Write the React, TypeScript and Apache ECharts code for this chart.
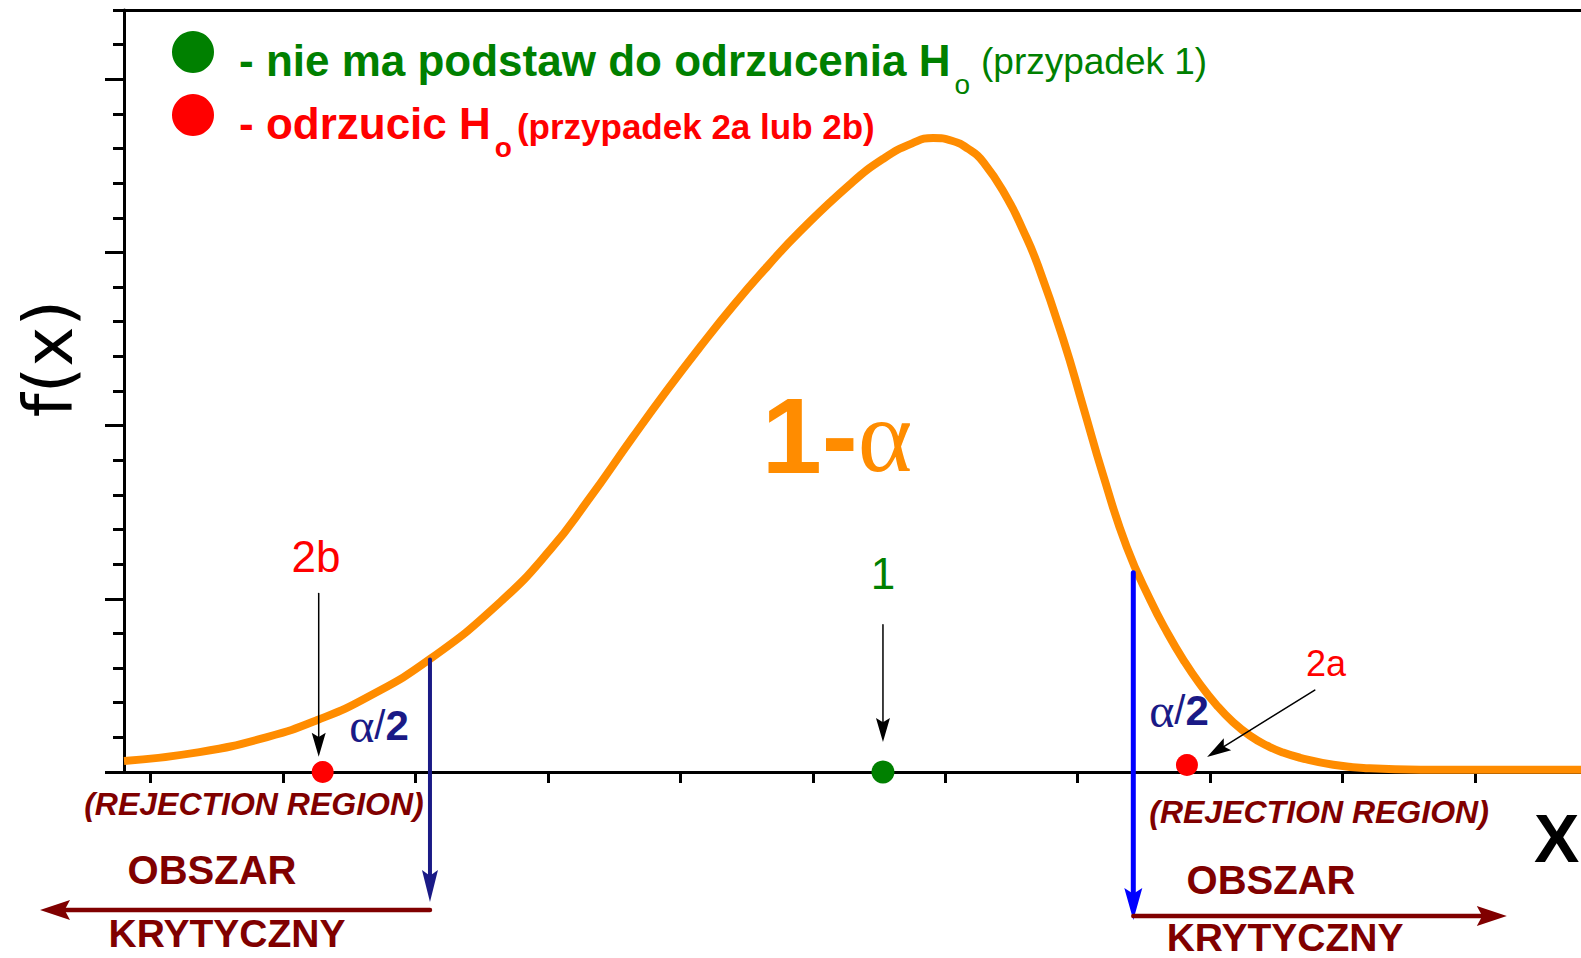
import React, { useEffect, useRef } from "react";
import * as echarts from "echarts";

// ---- density curve f(x), sampled in axis units ----
const densityX = [
  -0.2, 0.37, 0.88, 1.26, 1.64, 2.11, 2.64, 3.02, 3.3, 3.64, 3.9, 4.15, 4.4, 4.66, 4.9, 5.28, 5.53,
  5.75, 5.91, 6.05, 6.17, 6.29, 6.47, 6.59, 6.7, 6.89, 7.04, 7.19, 7.37, 7.55, 7.68, 7.8, 7.92,
  8.05, 8.17, 8.3, 8.43, 8.55, 8.68, 8.93, 9.19, 9.59, 10.19, 10.8,
];
const densityY = [
  0.064, 0.115, 0.202, 0.3, 0.433, 0.652, 0.981, 1.285, 1.565, 1.932, 2.205, 2.455, 2.693, 2.922,
  3.119, 3.393, 3.54, 3.63, 3.661, 3.645, 3.6, 3.52, 3.31, 3.125, 2.925, 2.5, 2.113, 1.72, 1.3,
  0.99, 0.8, 0.645, 0.51, 0.385, 0.29, 0.21, 0.152, 0.112, 0.082, 0.042, 0.022, 0.013, 0.013, 0.013,
];

// ---- axis ticks ----
const xTicks = [0, 1, 2, 3, 4, 5, 6, 7, 8, 9, 10];
const yMajorTicks = [0, 1, 2, 3, 4];
const yMinorTicks = [0.2, 0.4, 0.6, 0.8, 1.2, 1.4, 1.6, 1.8, 2.2, 2.4, 2.6, 2.8, 3.2, 3.4, 3.6, 3.8, 4.2, 4.4];

// ---- critical values (left / right) and f at those points ----
const criticalX = [2.11, 7.42];
const criticalTop = [0.65, 1.15];
const criticalArrowEnd = [-0.75, -0.855];

// ---- rejection-region arrows below the axis ----
const regionArrowY = [-0.797, -0.831];
const regionArrowEnd = [-0.834, 10.24];

// ---- test statistic cases ----
const acceptX = [5.53];
const acceptY = [0];
const rejectX = [1.3, 7.825];
const rejectY = [0, 0.04];

// ---- pointer arrows from case labels to points ----
const pointerFromX = [1.27, 5.53, 8.79];
const pointerFromY = [1.03, 0.85, 0.473];
const pointerToX = [1.27, 5.53, 7.977];
const pointerToY = [0.088, 0.173, 0.087];

// ---- labels ----
const caseLabels = ["2b", "1", "2a"];
const caseLabelX = [1.25, 5.53, 8.875];
const caseLabelY = [1.247, 1.146, 0.627];

const tailLabelX = [1.725, 7.765];
const tailLabelY = [0.271, 0.358];

const coverageLabelX = [5.183];
const coverageLabelY = [1.942];

const rejectionLabelX = [0.781, 8.822];
const rejectionLabelY = [-0.185, -0.231];
const obszarLabelX = [0.464, 8.46];
const obszarLabelY = [-0.566, -0.624];
const krytycznyLabelX = [0.578, 8.566];
const krytycznyLabelY = [-0.93, -0.955];

const ACCEPT = "nie ma podstaw do odrzucenia Ho (przypadek 1)";
const REJECT = "odrzucic Ho (przypadek 2a lub 2b)";

const SANS = '"Liberation Sans", Arial, sans-serif';
const SERIF = '"Liberation Serif", "Times New Roman", serif';
const ORANGE = "#ff8c00";
const GREEN = "#008000";
const RED = "#ff0000";
const MAROON = "#800000";
const NAVY = "#1a1a86";
const BLUE = "#0000ff";

const zip = (xs: number[], ys: number[]) => xs.map((x, i) => [x, ys[i]]);

function arrowSeries(
  id: string,
  data: number[][],
  color: string,
  lineWidth: number,
  headLen: number,
  headHalf: number
) {
  return {
    type: "custom",
    id,
    coordinateSystem: "cartesian2d",
    silent: true,
    z: 5,
    clip: false,
    data,
    encode: { x: [0, 2], y: [1, 3] },
    renderItem: (_params: any, api: any) => {
      const a = api.coord([api.value(0), api.value(1)]);
      const b = api.coord([api.value(2), api.value(3)]);
      const dx = b[0] - a[0];
      const dy = b[1] - a[1];
      const len = Math.hypot(dx, dy) || 1;
      const ux = dx / len;
      const uy = dy / len;
      const nx = -uy;
      const ny = ux;
      const bx = b[0] - ux * headLen;
      const by = b[1] - uy * headLen;
      const notch = headLen * 0.18;
      return {
        type: "group",
        children: [
          {
            type: "line",
            shape: { x1: a[0], y1: a[1], x2: bx + ux * notch, y2: by + uy * notch },
            style: { stroke: color, lineWidth, lineCap: "round" },
          },
          {
            type: "polygon",
            shape: {
              points: [
                [b[0], b[1]],
                [bx + nx * headHalf, by + ny * headHalf],
                [bx + ux * notch, by + uy * notch],
                [bx - nx * headHalf, by - ny * headHalf],
              ],
            },
            style: { fill: color },
          },
        ],
      };
    },
  };
}

function textSeries(
  id: string,
  xs: number[],
  ys: number[],
  texts: string[],
  style: (i: number) => Record<string, any>
) {
  return {
    type: "custom",
    id,
    coordinateSystem: "cartesian2d",
    silent: true,
    z: 8,
    clip: false,
    data: zip(xs, ys),
    encode: { x: 0, y: 1 },
    renderItem: (params: any, api: any) => {
      const p = api.coord([api.value(0), api.value(1)]);
      return {
        type: "text",
        x: p[0],
        y: p[1],
        style: {
          text: texts[params.dataIndex],
          align: "center",
          verticalAlign: "middle",
          ...style(params.dataIndex),
        },
      };
    },
  };
}

const axisLineStyle = { color: "#000", width: 3 };

// legend text tokens: all top-aligned; the subscript is pushed down by its top padding
const legendToken = (color: string, size: number, weight: string, top: number, left: number) => ({
  fontFamily: SANS,
  fontWeight: weight,
  fontSize: size,
  color,
  lineHeight: 44,
  verticalAlign: "top",
  padding: [top, 0, 44 - size - top, left],
});

function buildOption(): any {
  return {
    animation: false,
    backgroundColor: "#ffffff",
    grid: { left: 124, right: 0, top: 10, bottom: 186, containLabel: false, outerBoundsMode: "none" },
    legend: {
      orient: "vertical",
      left: 167,
      top: 25,
      itemWidth: 42,
      itemHeight: 42,
      itemGap: -5,
      icon: "circle",
      selectedMode: false,
      data: [ACCEPT, REJECT],
      formatter: (name: string) =>
        name === ACCEPT
          ? "{gm|- nie ma podstaw do odrzucenia H}{gs|o}{gn|(przypadek 1)}"
          : "{rm|- odrzucic H}{rs|o}{rn|(przypadek 2a lub 2b)}",
      textStyle: {
        rich: {
          gm: legendToken(GREEN, 44, "bold", 8, 20),
          gs: legendToken(GREEN, 28, "normal", 40, 4),
          gn: legendToken(GREEN, 37, "normal", 13, 11),
          rm: legendToken(RED, 44, "bold", 8, 20),
          rs: legendToken(RED, 28, "bold", 40, 4),
          rn: legendToken(RED, 35, "bold", 16, 5),
        },
      },
    },
    xAxis: [
      {
        type: "value",
        min: -0.2,
        max: 10.8,
        position: "bottom",
        axisLine: { show: true, onZero: false, lineStyle: axisLineStyle },
        axisTick: { show: true, customValues: xTicks, length: 11, lineStyle: axisLineStyle },
        axisLabel: { show: false },
        splitLine: { show: false },
        name: "X",
        nameLocation: "end",
        nameGap: -47,
        nameTextStyle: {
          fontFamily: SANS,
          fontWeight: "bold",
          fontSize: 68,
          color: "#000",
          align: "left",
          verticalAlign: "top",
          padding: [32, 0, 0, 0],
        },
      },
      {
        type: "value",
        min: -0.2,
        max: 10.8,
        position: "top",
        axisLine: { show: true, onZero: false, lineStyle: axisLineStyle },
        axisTick: { show: false },
        axisLabel: { show: false },
        splitLine: { show: false },
      },
    ],
    yAxis: [
      {
        type: "value",
        min: 0,
        max: 4.4,
        position: "left",
        axisLine: { show: true, onZero: false, lineStyle: axisLineStyle },
        axisTick: { show: true, customValues: yMajorTicks, length: 19, lineStyle: axisLineStyle },
        axisLabel: { show: false },
        splitLine: { show: false },
        name: "f(x)",
        nameLocation: "middle",
        nameRotate: 90,
        nameGap: 42,
        nameTextStyle: {
          fontFamily: '"DejaVu Sans", sans-serif',
          fontSize: 68,
          color: "#000",
          padding: [0, 0, 0, 65],
        },
      },
      {
        type: "value",
        min: 0,
        max: 4.4,
        position: "left",
        axisLine: { show: false, onZero: false },
        axisTick: { show: true, customValues: yMinorTicks, length: 11, lineStyle: axisLineStyle },
        axisLabel: { show: false },
        splitLine: { show: false },
      },
    ],
    series: [
      {
        type: "line",
        name: "f(x)",
        data: zip(densityX, densityY),
        smooth: 0.5,
        symbol: "none",
        showSymbol: false,
        lineStyle: { color: ORANGE, width: 8 },
        z: 3,
        silent: true,
      },
      arrowSeries("critical-left", [[criticalX[0], criticalTop[0], criticalX[0], criticalArrowEnd[0]]], NAVY, 4, 32, 8),
      arrowSeries("critical-right", [[criticalX[1], criticalTop[1], criticalX[1], criticalArrowEnd[1]]], BLUE, 5, 32, 9),
      arrowSeries(
        "region",
        criticalX.map((x, i) => [x, regionArrowY[i], regionArrowEnd[i], regionArrowY[i]]),
        MAROON,
        4.5,
        30,
        10
      ),
      arrowSeries(
        "pointers",
        pointerFromX.map((x, i) => [x, pointerFromY[i], pointerToX[i], pointerToY[i]]),
        "#000",
        1.5,
        24,
        7
      ),
      {
        type: "scatter",
        name: ACCEPT,
        data: zip(acceptX, acceptY),
        symbol: "circle",
        symbolSize: 23,
        itemStyle: { color: GREEN, opacity: 1 },
        z: 6,
        clip: false,
        silent: true,
      },
      {
        type: "scatter",
        name: REJECT,
        data: zip(rejectX, rejectY),
        symbol: "circle",
        symbolSize: 22,
        itemStyle: { color: RED, opacity: 1 },
        z: 6,
        clip: false,
        silent: true,
      },
      textSeries("case-labels", caseLabelX, caseLabelY, caseLabels, (i) => ({
        fill: i === 1 ? GREEN : RED,
        fontFamily: SANS,
        fontSize: i === 2 ? 36 : 44,
      })),
      textSeries("tail-labels", tailLabelX, tailLabelY, ["{a|α}{s|/}{b|2}", "{a|α}{s|/}{b|2}"], () => ({
        fill: NAVY,
        rich: {
          a: { fontFamily: SERIF, fontSize: 48, fill: NAVY },
          s: { fontFamily: SANS, fontSize: 40, fill: NAVY },
          b: { fontFamily: SANS, fontSize: 42, fontWeight: "bold", fill: NAVY },
        },
      })),
      textSeries("coverage-label", coverageLabelX, coverageLabelY, ["{n|1-}{a|α}"], () => ({
        fill: ORANGE,
        rich: {
          n: { fontFamily: SANS, fontSize: 108, fontWeight: "bold", fill: ORANGE },
          a: { fontFamily: SERIF, fontSize: 104, fill: ORANGE },
        },
      })),
      textSeries("rejection-labels", rejectionLabelX, rejectionLabelY, ["(REJECTION REGION)", "(REJECTION REGION)"], () => ({
        fill: MAROON,
        fontFamily: SANS,
        fontSize: 32,
        fontWeight: "bold",
        fontStyle: "italic",
      })),
      textSeries("obszar-labels", obszarLabelX, obszarLabelY, ["OBSZAR", "OBSZAR"], () => ({
        fill: MAROON,
        fontFamily: SANS,
        fontSize: 40,
        fontWeight: "bold",
      })),
      textSeries("krytyczny-labels", krytycznyLabelX, krytycznyLabelY, ["KRYTYCZNY", "KRYTYCZNY"], () => ({
        fill: MAROON,
        fontFamily: SANS,
        fontSize: 39,
        fontWeight: "bold",
      })),
    ],
  };
}

export default function App() {
  const ref = useRef<HTMLDivElement>(null);
  useEffect(() => {
    if (!ref.current) return;
    const chart = echarts.init(ref.current, undefined, { renderer: "svg" });
    chart.setOption(buildOption());
    return () => chart.dispose();
  }, []);
  return (
    <div
      ref={ref}
      style={{ position: "fixed", left: 0, top: 0, width: 1581, height: 958, background: "#ffffff" }}
    />
  );
}
